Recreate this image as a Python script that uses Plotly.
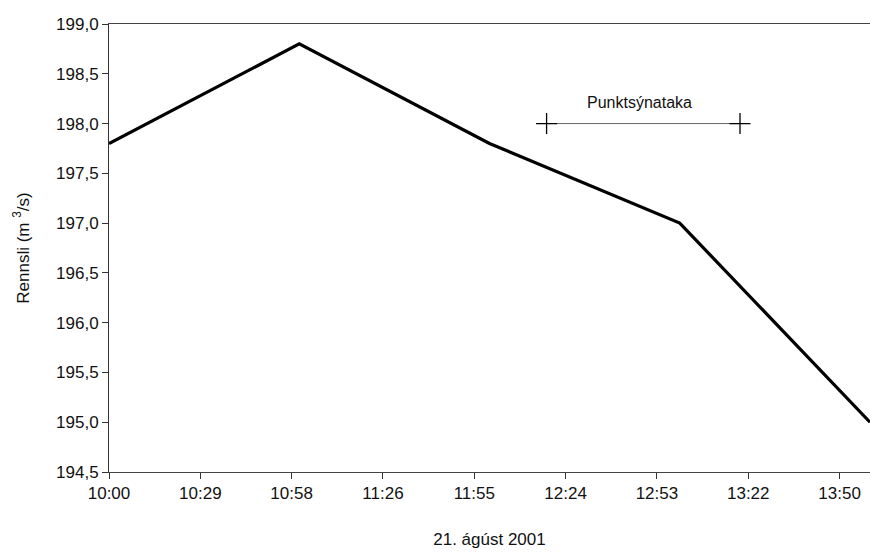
import pandas as pd
import plotly.graph_objects as go

# Discharge measurements, 21 August 2001
times = ["2001-08-21 10:00", "2001-08-21 11:00", "2001-08-21 12:00",
         "2001-08-21 13:00", "2001-08-21 14:00"]
discharge = [197.8, 198.8, 197.8, 197.0, 195.0]

# Point sampling period
sample_times = ["2001-08-21 12:18", "2001-08-21 13:19"]
sample_level = [198.0, 198.0]
sample_label = "Punktsýnataka"

# X ticks every 0.02 day (28.8 min) from 10:00
tick_labels = ["10:00", "10:29", "10:58", "11:26", "11:55",
               "12:24", "12:53", "13:22", "13:50"]
tick_step_min = 28.8
start = pd.Timestamp("2001-08-21 10:00")
tick_vals = [start + pd.Timedelta(minutes=tick_step_min * k) for k in range(len(tick_labels))]

y_ticks = [194.5, 195.0, 195.5, 196.0, 196.5, 197.0, 197.5, 198.0, 198.5, 199.0]
y_tick_labels = [f"{v:.1f}".replace(".", ",") for v in y_ticks]

family = "Liberation Sans, Arial, sans-serif"
font = dict(family=family, size=17, color="#111")

fig = go.Figure()
fig.add_trace(go.Scatter(
    x=times, y=discharge, mode="lines",
    line=dict(color="#000", width=3.2), showlegend=False,
))
fig.add_trace(go.Scatter(
    x=sample_times, y=sample_level, mode="lines+markers",
    line=dict(color="#666", width=1),
    marker=dict(symbol="cross-thin", size=15, line=dict(color="#000", width=1.3)),
    showlegend=False,
))
mid = pd.Timestamp(sample_times[0]) + (pd.Timestamp(sample_times[1]) - pd.Timestamp(sample_times[0])) / 2
fig.add_annotation(x=mid, y=sample_level[0], text=sample_label, showarrow=False,
                   yshift=21, xshift=-4, font=dict(family=family, size=16, color="#111"))

fig.update_layout(
    width=870, height=553,
    margin=dict(l=109, r=0, t=24, b=81),
    paper_bgcolor="white", plot_bgcolor="white",
    font=font,
    xaxis=dict(
        type="date",
        range=["2001-08-21 10:00", "2001-08-21 14:00"],
        tickmode="array", tickvals=tick_vals, ticktext=tick_labels,
        showgrid=False, zeroline=False,
        showline=True, linecolor="#444", linewidth=1, mirror=True,
        ticks="outside", ticklen=6, tickcolor="#333",
        title=dict(text="21. ágúst 2001", standoff=30, font=font),
    ),
    yaxis=dict(
        range=[194.5, 199.0],
        tickmode="array", tickvals=y_ticks, ticktext=y_tick_labels,
        showgrid=False, zeroline=False,
        showline=True, linecolor="#333", linewidth=1,
        ticks="outside", ticklen=6, tickcolor="#333",
        title=dict(text="Rennsli (m <sup>3</sup>/s)", standoff=22, font=font),
    ),
)

fig.write_html("out.html")
